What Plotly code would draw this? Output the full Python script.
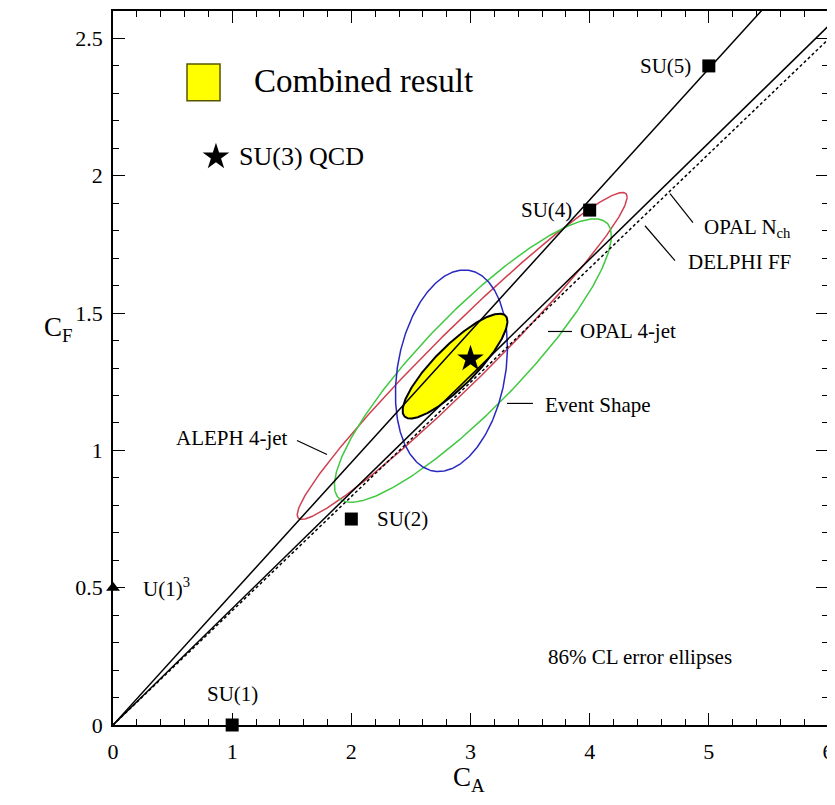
import numpy as np
import plotly.graph_objects as go

# ---------------- data ----------------
# error ellipses: centre, half-extent in CA and CF, correlation
ell_names = ["ALEPH 4-jet", "OPAL 4-jet", "Event Shape", "Combined result"]
ell_ca = [2.93, 3.02, 2.84, 2.87]
ell_cf = [1.344, 1.327, 1.29, 1.307]
ell_sca = [1.384, 1.162, 0.47, 0.44]
ell_scf = [0.595, 0.516, 0.367, 0.191]
ell_rho = [0.972, 0.88, 0.23, 0.85]
ell_colors = ["#d04050", "#40c840", "#2828c0", "black"]

# CA/CF ratio measurements (lines through the origin): CF = slope * CA
line_names = ["upper", "OPAL N<sub>ch</sub>", "DELPHI FF"]
line_slopes = [0.478, 0.424, 0.416]
line_dash = ["solid", "solid", "3px,2.5px"]

# gauge groups
su_labels = ["SU(1)", "SU(2)", "SU(4)", "SU(5)"]
su_ca = [1, 2, 4, 5]
su_cf = [0, 0.75, 1.875, 2.4]
u1_ca, u1_cf = 0, 0.5
qcd_ca, qcd_cf = 3, 4 / 3

fig = go.Figure()

t = np.linspace(0, 2 * np.pi, 400)
for i in range(4):
    x = ell_ca[i] + ell_sca[i] * np.cos(t)
    y = ell_cf[i] + ell_scf[i] * (ell_rho[i] * np.cos(t) + np.sqrt(1 - ell_rho[i] ** 2) * np.sin(t))
    if ell_names[i] == "Combined result":
        fig.add_trace(go.Scatter(x=x, y=y, mode="lines", fill="toself", fillcolor="#ffff00",
                                 line=dict(color="black", width=2), hoverinfo="skip"))
    else:
        fig.add_trace(go.Scatter(x=x, y=y, mode="lines",
                                 line=dict(color=ell_colors[i], width=1.5), hoverinfo="skip"))

for s, d in zip(line_slopes, line_dash):
    fig.add_trace(go.Scatter(x=[0, 6.5], y=[0, 6.5 * s], mode="lines",
                             line=dict(color="black", width=1.5, dash=d), hoverinfo="skip"))

fig.add_trace(go.Scatter(x=su_ca, y=su_cf, mode="markers", cliponaxis=False,
                         marker=dict(symbol="square", size=13, color="black")))
fig.add_trace(go.Scatter(x=[u1_ca], y=[u1_cf], mode="markers", cliponaxis=False,
                         marker=dict(symbol="triangle-up", size=12, color="black")))
fig.add_trace(go.Scatter(x=[qcd_ca], y=[qcd_cf], mode="markers",
                         marker=dict(symbol="star", size=20, color="black")))
# legend star
fig.add_trace(go.Scatter(x=[0.864], y=[2.069], mode="markers",
                         marker=dict(symbol="star", size=20, color="black")))
# invisible trace carrying the mirrored (top/right) axes
fig.add_trace(go.Scatter(x=[0], y=[0], xaxis="x2", yaxis="y2", mode="markers",
                         marker=dict(size=1, opacity=0), hoverinfo="skip"))

FONT = "Liberation Serif"
SMALL = 21
ann = []
# gauge-group labels
offs = {"SU(1)": (0, 31, "center"), "SU(2)": (24, 0, "left"),
        "SU(4)": (-16, 0, "right"), "SU(5)": (-16, 0, "right")}
for lab, xv, yv in zip(su_labels, su_ca, su_cf):
    dx, dy, xa = offs[lab]
    ann.append(dict(x=xv, y=yv, text=lab, xanchor=xa, yanchor="middle", xshift=dx, yshift=dy,
                    showarrow=False, font=dict(size=SMALL)))
ann.append(dict(x=u1_ca, y=u1_cf, text="U(1)<sup>3</sup>", xanchor="left", yanchor="middle",
                xshift=28, showarrow=False, font=dict(size=SMALL)))

labels = [
    ("ALEPH 4-jet", 1.485, 1.044, "right"),
    ("OPAL 4-jet", 3.902, 1.433, "left"),
    ("Event Shape", 3.608, 1.164, "left"),
    ("OPAL N<sub>ch</sub>", 4.942, 1.811, "left"),
    ("DELPHI FF", 4.808, 1.687, "left"),
]
for txt, xv, yv, xa in labels:
    ann.append(dict(x=xv, y=yv, text=txt, xanchor=xa, yanchor="middle", showarrow=False,
                    font=dict(size=SMALL)))
ann.append(dict(x=4.42, y=0.247, text="86% CL error ellipses", showarrow=False,
                font=dict(size=SMALL)))
# legend text
ann.append(dict(x=1.166, y=2.345, text="Combined result", xanchor="left", yanchor="middle",
                showarrow=False, font=dict(size=33)))
ann.append(dict(x=1.041, y=2.069, text="SU(3) QCD", xanchor="left", yanchor="middle",
                showarrow=False, font=dict(size=26)))
# axis titles
ann.append(dict(x=-0.076, y=0.555, xref="paper", yref="paper", text="C<sub>F</sub>",
                xanchor="center", yanchor="middle", showarrow=False, font=dict(size=27)))
ann.append(dict(x=0.498, y=-0.076, xref="paper", yref="paper", text="C<sub>A</sub>",
                xanchor="center", yanchor="middle", showarrow=False, font=dict(size=27)))

shapes = []
pointers = [
    (1.544, 1.036, 1.796, 0.985),
    (3.650, 1.433, 3.852, 1.433),
    (3.306, 1.171, 3.524, 1.171),
    (4.674, 1.935, 4.867, 1.829),
    (4.464, 1.818, 4.716, 1.691),
]
for x0, y0, x1, y1 in pointers:
    shapes.append(dict(type="line", x0=x0, y0=y0, x1=x1, y1=y1, xref="x", yref="y",
                       line=dict(color="black", width=1.2)))
# legend box
shapes.append(dict(type="rect", x0=0.621, x1=0.898, y0=2.273, y1=2.407, xref="x", yref="y",
                   fillcolor="#ffff00", line=dict(color="#555500", width=1.5)))

axis_common = dict(showgrid=False, zeroline=False, showline=True, linecolor="black",
                   linewidth=1.5, ticks="inside", ticklen=12, automargin=False,
                   tickwidth=1.3, tickcolor="black",
                   tickfont=dict(size=22, family=FONT, color="black"))
xminor = dict(dtick=0.2, ticklen=6, ticks="inside", tickcolor="black", tickwidth=1)
yminor = dict(dtick=0.1, ticklen=6, ticks="inside", tickcolor="black", tickwidth=1)

# page body adds an 8px offset, so the figure is sized to fit the window
fig.update_layout(
    width=827, height=797,
    margin=dict(l=105, r=7, t=3, b=80),
    paper_bgcolor="white", plot_bgcolor="white",
    showlegend=False,
    font=dict(family=FONT, color="black"),
    xaxis=dict(range=[0, 6], dtick=1, tick0=0, minor=xminor, ticklabelstandoff=6, **axis_common),
    yaxis=dict(range=[0, 2.6], dtick=0.5, tick0=0, minor=yminor, ticklabelstandoff=4, **axis_common),
    xaxis2=dict(range=[0, 6], dtick=1, tick0=0, minor=xminor, overlaying="x", side="top",
                showticklabels=False, **axis_common),
    yaxis2=dict(range=[0, 2.6], dtick=0.5, tick0=0, minor=yminor, overlaying="y", side="right",
                showticklabels=False, **axis_common),
    annotations=ann, shapes=shapes,
)

fig.write_html("out.html")
